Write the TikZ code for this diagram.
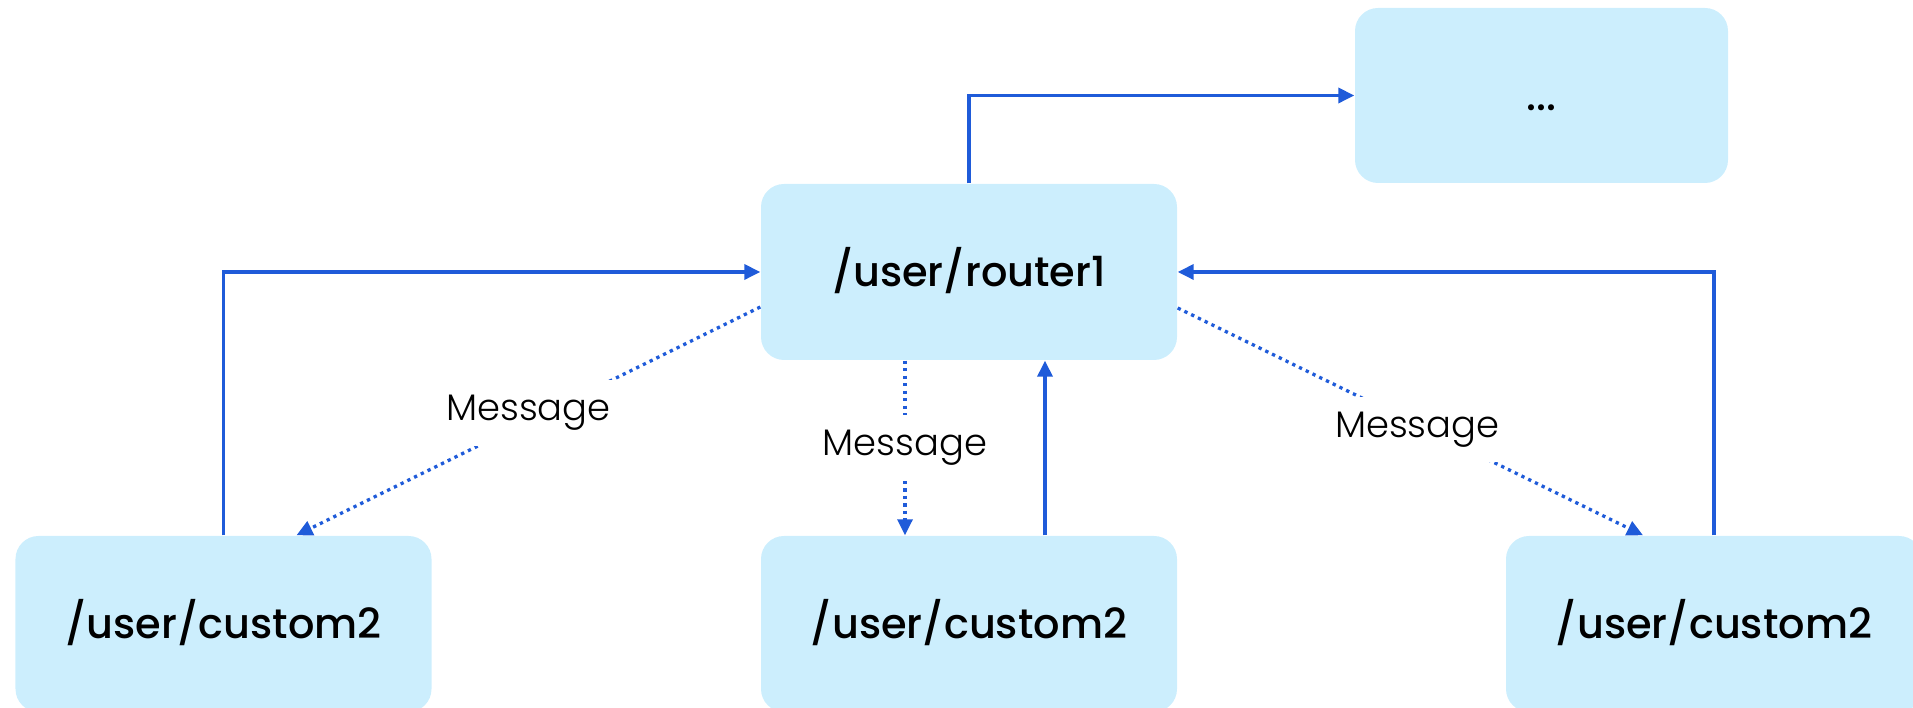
\documentclass[tikz,border=0pt]{standalone}
\usepackage{fontspec}
\setmainfont{Poppins}
\IfFontExistsTF{Poppins Medium}{\newfontfamily\boxfont{Poppins Medium}}{\newfontfamily\boxfont{Poppins}[FakeBold=0.6]}
\IfFontExistsTF{Poppins Light}{\newfontfamily\labelfont{Poppins Light}}{\newfontfamily\labelfont{Poppins}}
\usepackage{xcolor}
\usetikzlibrary{arrows.meta}

\definecolor{boxblue}{HTML}{CCEEFD}
\definecolor{linkblue}{HTML}{1F5BD9}

\begin{document}
\begin{tikzpicture}[
    box/.style={rectangle, rounded corners=0.23cm, fill=boxblue, minimum width=4.16cm, minimum height=1.76cm, text height=0.34cm, text depth=0.04cm, font=\boxfont\fontsize{11.8}{14}\selectfont},
    arrow/.style={-{Triangle[length=0.16cm, width=0.15cm]}, draw=linkblue, line width=0.035cm},
    msgarrow/.style={-{Triangle[length=0.16cm, width=0.15cm]}, draw=linkblue, line width=0.033cm, dash pattern=on 0.033cm off 0.042cm},
    msg/.style={fill=white, inner sep=0.15cm, font=\labelfont\fontsize{10.5}{13}\selectfont}
  ]
    \path[use as bounding box, clip] (0,0) rectangle (19.13,7.08);

    % Nodes
    \node[box] (router) at (9.69,4.36) {/user/router1};
    \node[box, minimum width=3.73cm, minimum height=1.75cm] (more) at (15.415,6.125) {...};
    \node[box] (left) at (2.235,0.84) {/user/custom2};
    \node[box] (mid) at (9.69,0.84) {/user/custom2};
    \node[box] (right) at (17.14,0.84) {/user/custom2};

    % Forwarding
    \draw[arrow] (router.north) |- (more.west);

    % Replies back to the router
    \draw[arrow] (left.north) |- (router.west);
    \draw[arrow] (right.north) |- (router.east);
    \draw[arrow] ([xshift=0.76cm]mid.north) -- ([xshift=0.76cm]router.south);

    % Messages sent out
    \draw[msgarrow] ([yshift=-0.35cm]router.west) -- ([xshift=0.73cm]left.north) node[msg, midway, yshift=0.08cm] {Message};
    \draw[msgarrow] ([xshift=-0.64cm]router.south) -- ([xshift=-0.64cm]mid.north) node[msg, midway] {Message};
    \draw[msgarrow] ([yshift=-0.36cm]router.east) -- ([xshift=-0.71cm]right.north) node[msg, midway, xshift=0.07cm, yshift=-0.08cm] {Message};
  \end{tikzpicture}
\end{document}
